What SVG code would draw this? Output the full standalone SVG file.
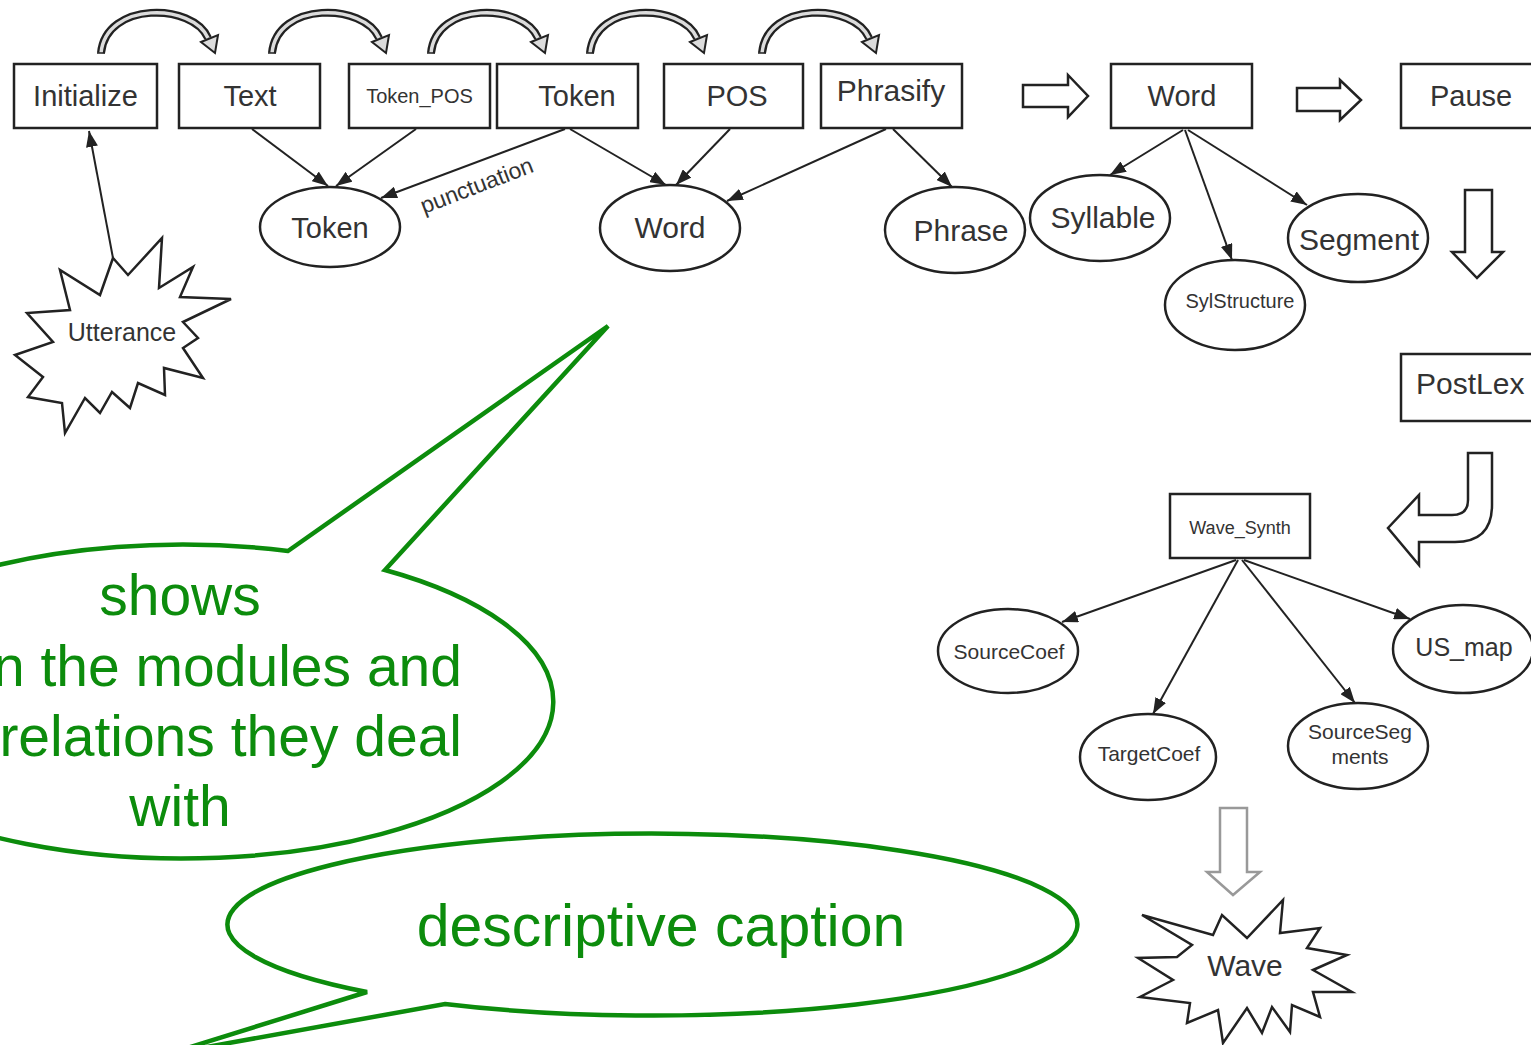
<svg xmlns="http://www.w3.org/2000/svg" width="1531" height="1045" viewBox="0 0 1531 1045">
<style>
.box{fill:#fff;stroke:#222;stroke-width:2.5}
.ell{fill:#fff;stroke:#222;stroke-width:2.5}
.t{font-family:"Liberation Sans",Arial,sans-serif;fill:#333}
.c{stroke:#222;stroke-width:2;fill:none;marker-end:url(#ah)}
.blk{fill:#fff;stroke:#222;stroke-width:2.5;stroke-linejoin:miter}
.g{font-family:"Liberation Sans",Arial,sans-serif;fill:#0c8c0c}
.bub{fill:#fff;stroke:#0c8c0c;stroke-width:4.5;stroke-linejoin:miter}
</style>
<defs>
<marker id="ah" viewBox="0 0 16 12" refX="16" refY="6" markerWidth="16" markerHeight="12" markerUnits="userSpaceOnUse" orient="auto">
<path d="M0,0 L16,6 L0,12 Z" fill="#222"/>
</marker>
<g id="carrow">
<path d="M0,0 C5,-52 92,-50 107,-15" fill="none" stroke="#222" stroke-width="8"/>
<path d="M0,0 C5,-52 92,-50 107,-15" fill="none" stroke="#dcdcdc" stroke-width="3.5"/>
<path d="M-4,0 H4" stroke="#222" stroke-width="1.5"/>
<polygon points="100,-11 117,-18 114,0" fill="#dcdcdc" stroke="#222" stroke-width="2"/>
</g>
</defs>
<rect width="1531" height="1045" fill="#fff"/>

<g id="flow-arrows">
<use href="#carrow" x="101" y="53"/>
<use href="#carrow" x="272" y="53"/>
<use href="#carrow" x="431" y="53"/>
<use href="#carrow" x="590" y="53"/>
<use href="#carrow" x="762" y="53"/>
<polygon class="blk" points="1023,85 1068,85 1068,75 1088,96 1068,117 1068,107 1023,107"/>
<polygon class="blk" points="1297,88 1340,88 1340,80 1361,100 1340,120 1340,111 1297,111"/>
<polygon class="blk" points="1465,190 1492,190 1492,252 1503,252 1477,278 1452,252 1465,252"/>
<path class="blk" d="M1468,453 L1492,453 L1492,505 Q1492,542 1455,542 L1419,542 L1419,565 L1388,528 L1419,495 L1419,515 L1452,515 Q1468,515 1468,500 Z"/>
<polygon points="1220,808 1247,808 1247,872 1260,872 1233,895 1207,872 1220,872" fill="#fff" stroke="#999" stroke-width="2.5"/>
</g>

<g id="connectors">
<line class="c" x1="252" y1="129" x2="328" y2="186"/>
<line class="c" x1="416" y1="129" x2="336" y2="186"/>
<line class="c" x1="565" y1="129" x2="381" y2="198"/>
<line class="c" x1="570" y1="129" x2="666" y2="185"/>
<line class="c" x1="730" y1="129" x2="676" y2="185"/>
<line class="c" x1="886" y1="129" x2="727" y2="201"/>
<line class="c" x1="893" y1="129" x2="952" y2="187"/>
<line class="c" x1="113" y1="258" x2="89" y2="131"/>
<line class="c" x1="1183" y1="130" x2="1110" y2="175"/>
<line class="c" x1="1185" y1="130" x2="1232" y2="260"/>
<line class="c" x1="1188" y1="130" x2="1307" y2="205"/>
<line class="c" x1="1236" y1="560" x2="1062" y2="622"/>
<line class="c" x1="1238" y1="560" x2="1153" y2="714"/>
<line class="c" x1="1242" y1="560" x2="1355" y2="703"/>
<line class="c" x1="1244" y1="560" x2="1410" y2="619"/>
<text class="t" x="424" y="214" font-size="23" transform="rotate(-21 424 214)">punctuation</text>
</g>

<g id="n-initialize"><rect class="box" x="14" y="64" width="143" height="64"/><text class="t" x="85.5" y="106" font-size="29" text-anchor="middle">Initialize</text></g>
<g id="n-text"><rect class="box" x="179" y="64" width="141" height="64"/><text class="t" x="250" y="106" font-size="29" text-anchor="middle">Text</text></g>
<g id="n-token-pos"><rect class="box" x="349" y="64" width="141" height="64"/><text class="t" x="419.5" y="103" font-size="20" text-anchor="middle">Token_POS</text></g>
<g id="n-token-mod"><rect class="box" x="497" y="64" width="141" height="64"/><text class="t" x="577" y="106" font-size="29" text-anchor="middle">Token</text></g>
<g id="n-pos"><rect class="box" x="664" y="64" width="139" height="64"/><text class="t" x="737" y="106" font-size="29" text-anchor="middle">POS</text></g>
<g id="n-phrasify"><rect class="box" x="821" y="64" width="141" height="64"/><text class="t" x="891" y="101" font-size="30" text-anchor="middle">Phrasify</text></g>
<g id="n-word-mod"><rect class="box" x="1111" y="64" width="141" height="64"/><text class="t" x="1182" y="106" font-size="29" text-anchor="middle">Word</text></g>
<g id="n-pause"><rect class="box" x="1401" y="64" width="140" height="64"/><text class="t" x="1430" y="106" font-size="29">Pause</text></g>
<g id="n-postlex"><rect class="box" x="1401" y="354" width="140" height="67"/><text class="t" x="1416" y="394" font-size="30">PostLex</text></g>
<g id="n-wave-synth"><rect class="box" x="1170" y="494" width="140" height="64"/><text class="t" x="1240" y="534" font-size="18" text-anchor="middle">Wave_Synth</text></g>

<g id="n-token"><ellipse class="ell" cx="330" cy="227" rx="70" ry="40"/><text class="t" x="330" y="238" font-size="29" text-anchor="middle">Token</text></g>
<g id="n-word"><ellipse class="ell" cx="670" cy="228" rx="70" ry="43"/><text class="t" x="670" y="238" font-size="30" text-anchor="middle">Word</text></g>
<g id="n-phrase"><ellipse class="ell" cx="955" cy="230" rx="70" ry="43"/><text class="t" x="961" y="241" font-size="30" text-anchor="middle">Phrase</text></g>
<g id="n-syllable"><ellipse class="ell" cx="1100" cy="218" rx="70" ry="43"/><text class="t" x="1103" y="228" font-size="30" text-anchor="middle">Syllable</text></g>
<g id="n-segment"><ellipse class="ell" cx="1358" cy="238" rx="70" ry="44"/><text class="t" x="1359" y="250" font-size="30" text-anchor="middle">Segment</text></g>
<g id="n-sylstructure"><ellipse class="ell" cx="1235" cy="305" rx="70" ry="45"/><text class="t" x="1240" y="308" font-size="20" text-anchor="middle">SylStructure</text></g>
<g id="n-sourcecoef"><ellipse class="ell" cx="1008" cy="651" rx="70" ry="42"/><text class="t" x="1009" y="659" font-size="21" text-anchor="middle">SourceCoef</text></g>
<g id="n-us-map"><ellipse class="ell" cx="1463" cy="649" rx="70" ry="44"/><text class="t" x="1464" y="656" font-size="25" text-anchor="middle">US_map</text></g>
<g id="n-targetcoef"><ellipse class="ell" cx="1148" cy="757" rx="68" ry="43"/><text class="t" x="1149" y="761" font-size="21" text-anchor="middle">TargetCoef</text></g>
<g id="n-sourcesegments"><ellipse class="ell" cx="1358" cy="746" rx="70" ry="43"/><text class="t" x="1360" y="739" font-size="21" text-anchor="middle">SourceSeg</text><text class="t" x="1360" y="764" font-size="21" text-anchor="middle">ments</text></g>

<g id="n-utterance"><polygon class="blk" points="113,258 128,275 162,238 159,288 193,267 180,297 231,299 183,322 198,338 183,348 203,378 164,368 165,395 138,383 130,408 112,392 100,413 85,398 65,433 62,403 28,397 43,377 15,355 53,342 27,313 70,310 60,270 100,295"/><text class="t" x="122" y="341" font-size="25" text-anchor="middle">Utterance</text></g>
<g id="n-wave"><polygon class="blk" points="1142,915 1213,935 1222,915 1247,938 1283,900 1280,933 1320,928 1307,948 1347,955 1313,970 1352,992 1313,992 1320,1017 1292,1005 1290,1032 1272,1007 1262,1033 1247,1008 1223,1043 1218,1010 1187,1023 1190,1003 1140,997 1173,980 1138,958 1177,957 1192,945"/><text class="t" x="1245" y="976" font-size="30" text-anchor="middle">Wave</text></g>

<g id="callout-1">
<path class="bub" d="M288,551 L608,326 L385,570 A371,157 0 1 1 288,551 Z"/>
<text class="g" x="180" y="615" font-size="57" text-anchor="middle">shows</text>
<text class="g" x="462" y="686" font-size="57" text-anchor="end">n the modules and</text>
<text class="g" x="462" y="756" font-size="57" text-anchor="end">relations they deal</text>
<text class="g" x="180" y="826" font-size="57" text-anchor="middle">with</text>
</g>
<g id="callout-2">
<path class="bub" d="M367,992 L168,1054 L445,1004 A425,91 0 1 0 367,992 Z"/>
<text class="g" x="661" y="946" font-size="59" text-anchor="middle">descriptive caption</text>
</g>
</svg>
